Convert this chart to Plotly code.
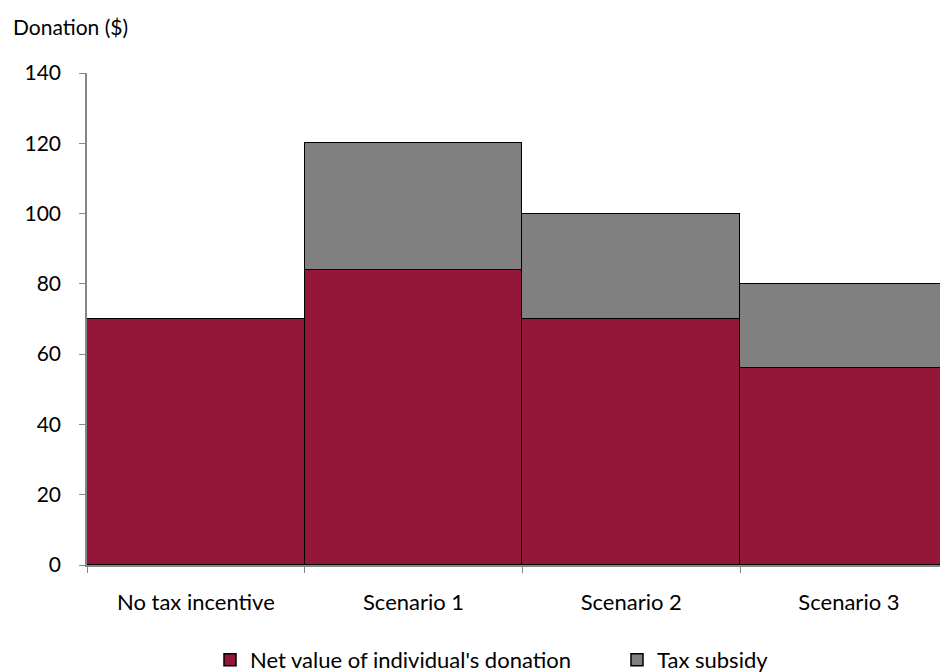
import plotly.graph_objects as go

categories = ["No tax incentive", "Scenario 1", "Scenario 2", "Scenario 3"]
net_donation = [70, 84, 70, 56]
tax_subsidy = [0, 36, 30, 24]
y_ticks = [0, 20, 40, 60, 80, 100, 120, 140]

FONT = "Lato"
RED = "#941739"
GREY = "#808080"
AXIS = "#868686"

# page has an 8px body margin, so the figure is 940x664 placed at (8, 8)
W, H = 940, 664
ML, MT, MB, MR = 79, 65, 107, 0
PW, PH = W - ML - MR, H - MT - MB

fig = go.Figure()
fig.add_trace(go.Bar(
    x=categories, y=net_donation, name="Net value of individual's donation",
    marker=dict(color=RED, line=dict(color="black", width=1.5)),
))
fig.add_trace(go.Bar(
    x=categories, y=tax_subsidy, name="Tax subsidy",
    marker=dict(color=GREY, line=dict(color="black", width=1.5)),
))

fig.update_layout(
    width=W, height=H,
    barmode="stack", bargap=0,
    plot_bgcolor="white", paper_bgcolor="white",
    margin=dict(l=ML, r=MR, t=MT, b=MB, autoexpand=False),
    font=dict(family=FONT, size=22, color="black"),
    showlegend=True,
    legend=dict(orientation="h", x=(202 - ML) / PW, xanchor="left",
                y=(H - MB - 652) / PH, yanchor="middle",
                font=dict(size=22), itemwidth=30, traceorder="normal",
                entrywidth=362, entrywidthmode="pixels"),
    annotations=[dict(text="Donation ($)", xref="paper", yref="paper",
                      x=(3 - ML) / PW, y=1 + (MT - 19) / PH, xanchor="left", yanchor="middle",
                      showarrow=False, font=dict(size=21))],
)
fig.update_xaxes(
    range=[-0.5, 3.455], showline=True, linecolor=AXIS, linewidth=1.5,
    ticks="outside", tickson="boundaries", ticklen=6, tickcolor=AXIS,
    ticklabelstandoff=17, showgrid=False,
)
fig.update_yaxes(
    range=[0, 140], tickvals=y_ticks, showline=True, linecolor=AXIS, linewidth=1.5,
    ticks="outside", ticklen=6, tickcolor=AXIS, ticklabelstandoff=14,
    tickfont=dict(size=21), showgrid=False, zeroline=False,
)

fig.write_html("out.html")
